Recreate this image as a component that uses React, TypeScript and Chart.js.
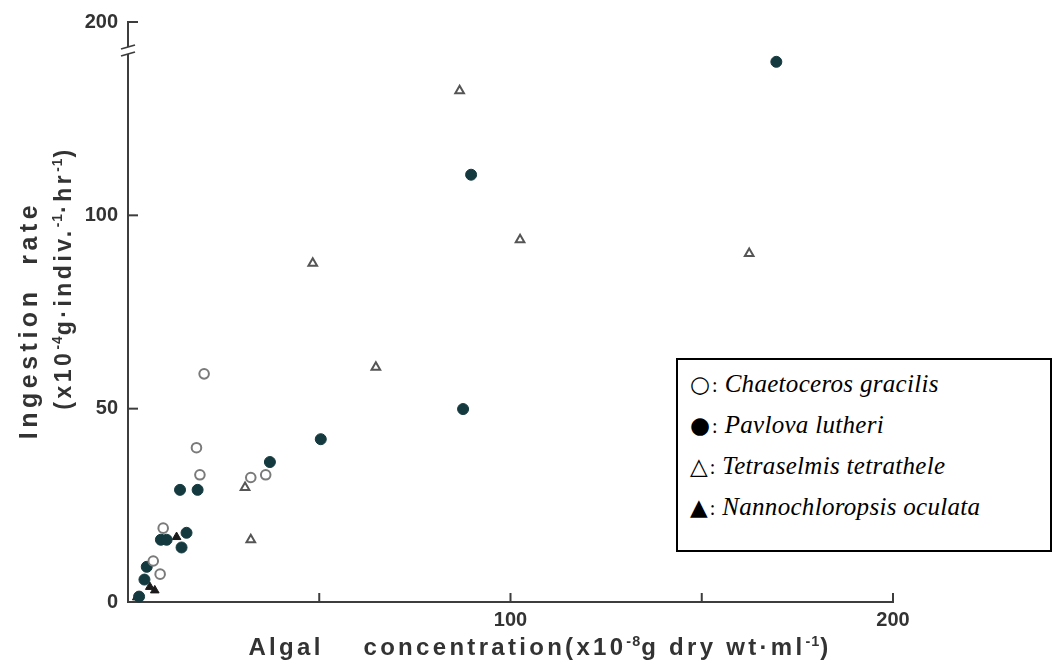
import React, { useEffect, useRef } from 'react';
import { Chart, registerables } from 'chart.js';

Chart.register(...registerables);

// Chaetoceros gracilis (open circles)
const chaetocerosX = [19.9, 17.9, 18.8, 32.1, 36.0, 9.2, 6.6, 8.4];
const chaetocerosY = [59.0, 39.9, 32.9, 32.2, 32.9, 19.1, 10.6, 7.2];

// Pavlova lutheri (filled circles)
const pavlovaX = [13.6, 18.2, 37.1, 50.4, 8.6, 10.1, 15.3, 14.0, 4.9, 4.3, 2.9, 87.6, 89.7, 169.5];
const pavlovaY = [29.0, 29.0, 36.2, 42.1, 16.1, 16.1, 17.9, 14.1, 9.1, 5.8, 1.4, 49.9, 110.5, 139.7];

// Tetraselmis tetrathele (open triangles)
const tetraselmisX = [86.7, 102.5, 162.4, 179.9, 48.3, 64.8, 30.6, 32.1];
const tetraselmisY = [132.2, 93.7, 90.1, 153.7, 87.6, 60.7, 29.6, 16.1];

// Nannochloropsis oculata (filled triangles)
const nannoX = [12.7, 5.7, 7.0, 2.3];
const nannoY = [16.8, 3.9, 3.0, 1.2];

// Axis ticks (the y axis is broken: the top tick is labelled 200)
const xTickValues = [0, 50, 100, 150, 200];
const xTickLabels = ['', '', '100', '', '200'];
const yTickValues = [0, 50, 100, 150];
const yTickLabels = ['0', '50', '100', '200'];

const legendSymbols = ['○', '●', '△', '▲'];
const legendNames = ['Chaetoceros gracilis', 'Pavlova lutheri', 'Tetraselmis tetrathele', 'Nannochloropsis oculata'];

const toPoints = (xs: number[], ys: number[]) => xs.map((x, i) => ({ x, y: ys[i] }));

const AXIS_COLOR = '#3d3d3d';

const decorPlugin = {
  id: 'decor',
  afterDraw(chart: any) {
    const { ctx, chartArea, scales } = chart;
    ctx.save();
    ctx.strokeStyle = AXIS_COLOR;
    ctx.lineWidth = 2;
    const line = (x1: number, y1: number, x2: number, y2: number) => {
      ctx.beginPath();
      ctx.moveTo(x1, y1);
      ctx.lineTo(x2, y2);
      ctx.stroke();
    };
    xTickValues.forEach((v) => {
      if (v === 0) return;
      const px = scales.x.getPixelForValue(v);
      line(px, chartArea.bottom, px, chartArea.bottom - 9);
    });
    yTickValues.forEach((v) => {
      if (v === 0) return;
      const py = scales.y.getPixelForValue(v);
      line(chartArea.left, py, chartArea.left + 10, py);
    });
    // axis break
    const l = chartArea.left;
    const t = chartArea.top;
    ctx.fillStyle = '#ffffff';
    ctx.fillRect(l - 3, t + 25, 6, 7);
    ctx.lineWidth = 1.8;
    line(l - 7, t + 27, l + 7, t + 23);
    line(l - 7, t + 34, l + 7, t + 30);
    ctx.restore();
  },
};

export default function App() {
  const canvasRef = useRef<HTMLCanvasElement | null>(null);

  useEffect(() => {
    if (!canvasRef.current) return;
    const tickFont = { family: "'Liberation Sans', Arial, sans-serif", size: 20, weight: 'bold' as const };
    const chart = new Chart(canvasRef.current, {
      type: 'scatter',
      data: {
        datasets: [
          {
            label: legendNames[0],
            data: toPoints(chaetocerosX, chaetocerosY),
            pointStyle: 'circle',
            pointRadius: 4.8,
            backgroundColor: '#ffffff',
            borderColor: '#7a7a7a',
            borderWidth: 2,
            clip: false,
          },
          {
            label: legendNames[1],
            data: toPoints(pavlovaX, pavlovaY),
            pointStyle: 'circle',
            pointRadius: 5.5,
            backgroundColor: '#143a3f',
            borderColor: '#143a3f',
            borderWidth: 1,
            clip: false,
          },
          {
            label: legendNames[2],
            data: toPoints(tetraselmisX, tetraselmisY),
            pointStyle: 'triangle',
            pointRadius: 5,
            backgroundColor: '#ffffff',
            borderColor: '#555555',
            borderWidth: 2,
            clip: false,
          },
          {
            label: legendNames[3],
            data: toPoints(nannoX, nannoY),
            pointStyle: 'triangle',
            pointRadius: 5,
            backgroundColor: '#1a1a1a',
            borderColor: '#1a1a1a',
            borderWidth: 1,
            clip: false,
          },
        ],
      },
      options: {
        animation: false,
        responsive: true,
        maintainAspectRatio: false,
        layout: { padding: { left: 0, right: 159, top: 20, bottom: 0 } },
        plugins: { legend: { display: false }, tooltip: { enabled: false } },
        scales: {
          x: {
            type: 'linear',
            min: 0,
            max: 200,
            grid: { display: false, drawTicks: false },
            border: { display: true, color: AXIS_COLOR, width: 2 },
            afterBuildTicks: (scale: any) => {
              scale.ticks = xTickValues.map((v) => ({ value: v }));
            },
            afterFit: (scale: any) => {
              scale.height = 65;
            },
            ticks: {
              color: '#333',
              font: tickFont,
              padding: 6,
              maxRotation: 0,
              autoSkip: false,
              callback: (value: any) => {
                const i = xTickValues.indexOf(Number(value));
                return i >= 0 ? xTickLabels[i] : '';
              },
            },
          },
          y: {
            type: 'linear',
            min: 0,
            max: 150,
            grid: { display: false, drawTicks: false },
            border: { display: true, color: AXIS_COLOR, width: 2 },
            afterBuildTicks: (scale: any) => {
              scale.ticks = yTickValues.map((v) => ({ value: v }));
            },
            afterFit: (scale: any) => {
              scale.width = 128;
            },
            ticks: {
              color: '#333',
              font: tickFont,
              padding: 10,
              autoSkip: false,
              callback: (value: any) => {
                const i = yTickValues.indexOf(Number(value));
                return i >= 0 ? yTickLabels[i] : '';
              },
            },
          },
        },
      },
      plugins: [decorPlugin],
    });
    return () => chart.destroy();
  }, []);

  const sans = "'Liberation Sans', Arial, sans-serif";
  const titleStyle: React.CSSProperties = {
    position: 'absolute',
    fontFamily: sans,
    fontWeight: 'bold',
    color: '#333',
    whiteSpace: 'nowrap',
    transform: 'translate(-50%, -50%)',
  };
  const rotStyle: React.CSSProperties = {
    ...titleStyle,
    transform: 'translate(-50%, -50%) rotate(-90deg)',
  };
  const supStyle: React.CSSProperties = { fontSize: '0.6em', verticalAlign: '0.65em', letterSpacing: '1px' };

  return (
    <div style={{ position: 'fixed', left: 0, top: 0, width: 1052, height: 667, background: '#fff', overflow: 'hidden' }}>
      <div style={{ position: 'absolute', left: 0, top: 0, width: 1052, height: 667 }}>
        <canvas ref={canvasRef} />
      </div>
      <div style={{ ...rotStyle, left: 28, top: 320, fontSize: 25, letterSpacing: '4.5px' }}>
        Ingestion{'\u00a0\u00a0'}rate
      </div>
      <div style={{ ...rotStyle, left: 63, top: 278, fontSize: 23, letterSpacing: '3.5px' }}>
        (x10<span style={supStyle}>-4</span>g·indiv.<span style={supStyle}>-1</span>·hr<span style={supStyle}>-1</span>)
      </div>
      <div style={{ ...titleStyle, left: 540, top: 647, fontSize: 24, letterSpacing: '3.3px' }}>
        Algal{'\u00a0\u00a0\u00a0\u00a0'}concentration(x10<span style={supStyle}>-8</span>g dry wt·ml<span style={supStyle}>-1</span>)
      </div>
      <div
        style={{
          position: 'absolute',
          left: 676,
          top: 358,
          width: 376,
          height: 194,
          boxSizing: 'border-box',
          border: '2px solid #000',
          background: '#fff',
          fontFamily: "'Liberation Serif', 'DejaVu Serif', serif",
          fontSize: 25,
          color: '#000',
          paddingLeft: 12,
          paddingTop: 9,
        }}
      >
        {legendNames.map((name, i) => (
          <div key={name} style={{ height: 41, lineHeight: '30px', whiteSpace: 'nowrap' }}>
            <span style={{ fontStyle: 'normal', fontFamily: "'DejaVu Sans', sans-serif", fontSize: 23 }}>{legendSymbols[i]}</span>
            <span style={{ fontStyle: 'normal', fontSize: 20, marginLeft: 2, marginRight: 2 }}>: </span>
            <span style={{ fontStyle: 'italic', letterSpacing: '0.3px' }}>{name}</span>
          </div>
        ))}
      </div>
    </div>
  );
}
